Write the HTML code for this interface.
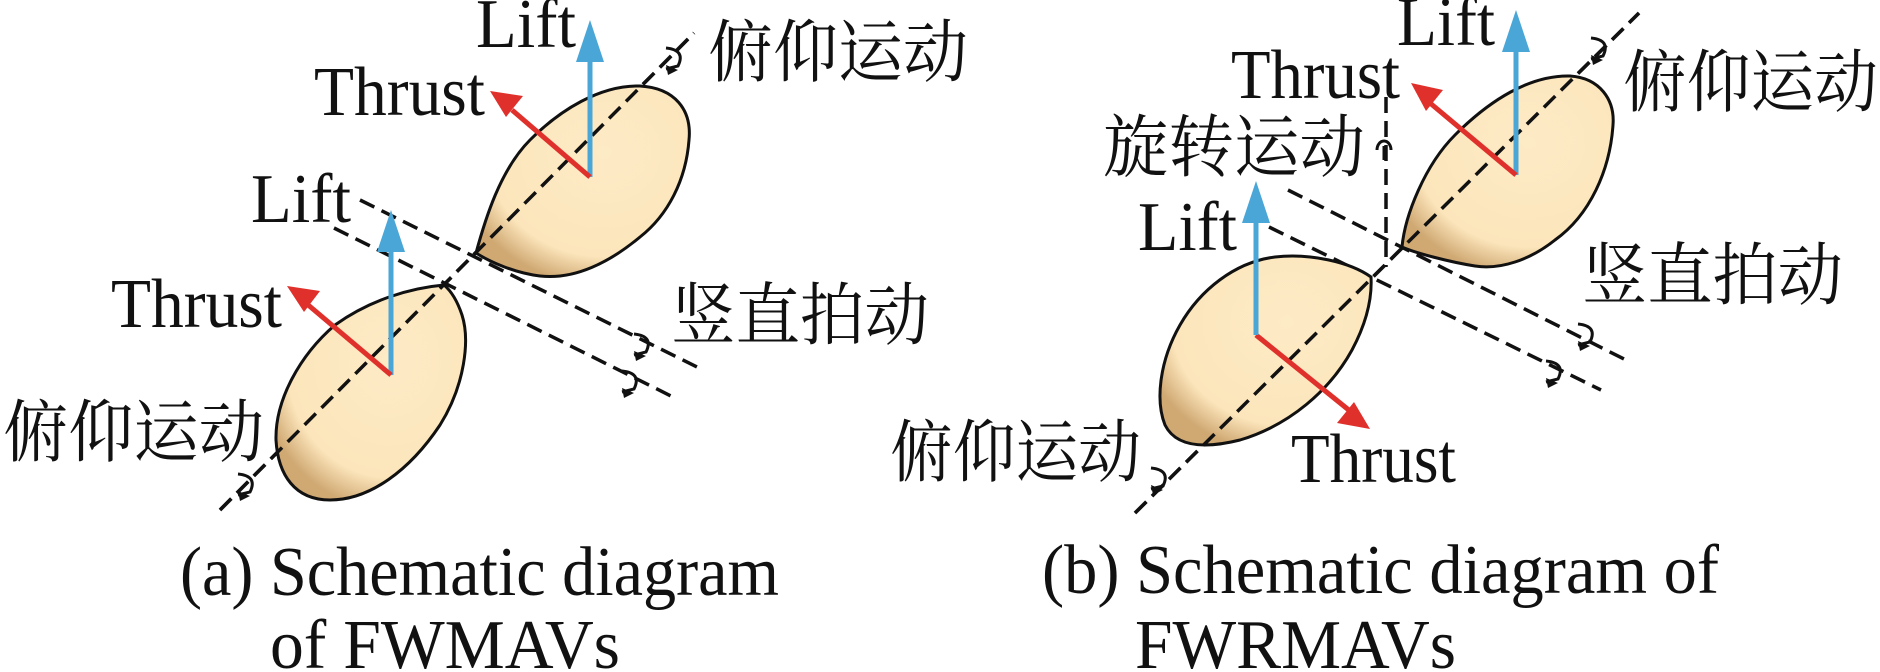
<!DOCTYPE html>
<html><head><meta charset="utf-8"><style>
html,body{margin:0;padding:0;background:#fff;}
svg{display:block;}
text{font-family:"Liberation Serif","Noto Serif CJK SC",serif;fill:#111;}
.cn{font-family:"Liberation Serif","Noto Serif CJK SC","Noto Sans CJK SC",serif;}
</style></head><body>
<svg width="1880" height="672" viewBox="0 0 1880 672" xmlns="http://www.w3.org/2000/svg">
<defs>
<radialGradient id="wg" cx="0.6" cy="0.35" r="0.7">
<stop offset="0" stop-color="#fdebc6"/><stop offset="0.78" stop-color="#fce5bb"/><stop offset="1" stop-color="#cfa872"/>
</radialGradient>
</defs>
<g fill="none" stroke="#111" stroke-width="3.5" stroke-dasharray="16,8">
<line x1="220" y1="510" x2="694" y2="33"/>
<line x1="360" y1="200" x2="703" y2="370"/>
<line x1="334" y1="228" x2="675" y2="398"/>
<line x1="1135" y1="513" x2="1639" y2="13"/>
<line x1="1288" y1="190" x2="1626" y2="360"/>
<line x1="1269" y1="227" x2="1601" y2="390"/>
<line x1="1386" y1="97" x2="1386" y2="267"/>
</g>
<path d="M476,253 C485,220 500,170 530,140 C560,110 600,85 640,86 C675,88 692,110 689,140 C686,180 668,215 640,237 C610,262 575,280 540,276 C515,273 490,262 476,253 Z" fill="url(#wg)" stroke="#111" stroke-width="3"/>
<path d="M444,285 C410,288 370,300 335,325 C300,355 275,400 276,440 C278,475 295,500 330,500 C370,500 410,470 440,425 C465,385 470,340 462,315 C457,300 450,290 444,285 Z" fill="url(#wg)" stroke="#111" stroke-width="3"/>
<path d="M1402,247 C1405,215 1425,165 1455,135 C1490,100 1530,75 1570,76 C1600,78 1615,100 1613,125 C1610,170 1590,215 1555,240 C1530,260 1500,270 1475,266 C1450,262 1415,253 1402,247 Z" fill="url(#wg)" stroke="#111" stroke-width="3"/>
<path d="M1371,277 C1350,262 1310,253 1275,257 C1235,262 1200,290 1180,325 C1160,360 1155,400 1165,425 C1175,445 1200,450 1240,440 C1290,425 1330,390 1352,350 C1368,320 1372,295 1371,277 Z" fill="url(#wg)" stroke="#111" stroke-width="3"/>
<g fill="none" stroke="#111" stroke-width="3.5" stroke-dasharray="16,8">
<line x1="220" y1="510" x2="694" y2="33"/>
<line x1="1135" y1="513" x2="1639" y2="13"/>
</g>
<g stroke-width="5">
<line x1="590" y1="177" x2="590" y2="58" stroke="#4aa6d6"/>
<polygon points="590,20 576,62 604,62" fill="#4aa6d6"/>
<line x1="590" y1="177" x2="512" y2="110" stroke="#e0302b"/>
<polygon points="490,91 523,96 506,117" fill="#e0302b"/>
<line x1="391" y1="375" x2="391" y2="246" stroke="#4aa6d6"/>
<polygon points="391,210 377,252 405,252" fill="#4aa6d6"/>
<line x1="391" y1="375" x2="307" y2="304" stroke="#e0302b"/>
<polygon points="287,286 320,291 304,312" fill="#e0302b"/>
<line x1="1516" y1="175" x2="1516" y2="48" stroke="#4aa6d6"/>
<polygon points="1516,10 1502,52 1530,52" fill="#4aa6d6"/>
<line x1="1516" y1="175" x2="1430" y2="103" stroke="#e0302b"/>
<polygon points="1411,83 1443,90 1426,111" fill="#e0302b"/>
<line x1="1256" y1="335" x2="1350" y2="411" stroke="#e0302b"/>
<polygon points="1370,429 1337,423 1354,402" fill="#e0302b"/>
<line x1="1256" y1="335" x2="1256" y2="219" stroke="#4aa6d6"/>
<polygon points="1256,181 1242,223 1270,223" fill="#4aa6d6"/>
</g>
<g fill="none" stroke="#111" stroke-width="3">
<path d="M634,334 q20,2 12,18 l-12,3"/><path d="M622,371 q20,2 12,18 l-12,3"/>
<path d="M238,474 q20,2 12,18 l-12,3"/><path d="M666,48 q20,2 12,18 l-12,3"/>
<path d="M1578,324 q20,2 12,18 l-12,3"/><path d="M1546,361 q20,2 12,18 l-12,3"/>
<path d="M1591,38 q20,2 12,18 l-12,3"/><path d="M1151,468 q20,2 12,18 l-12,3"/>
<path d="M1377,150 a7,9 0 1 1 14,0 M1384,146 v14"/>
</g>
<g fill="#111">
<polygon points="634,351 646,356 636,361"/><polygon points="622,388 634,393 624,398"/>
<polygon points="238,491 250,496 240,501"/><polygon points="666,65 678,70 668,75"/>
<polygon points="1578,341 1590,346 1580,351"/><polygon points="1546,378 1558,383 1548,388"/>
<polygon points="1591,55 1603,60 1593,65"/><polygon points="1151,485 1163,490 1153,495"/>
</g>
<g font-size="70">
<text x="476" y="47" textLength="100" lengthAdjust="spacingAndGlyphs">Lift</text>
<text x="314" y="115" textLength="171" lengthAdjust="spacingAndGlyphs">Thrust</text>
<text x="251" y="222" textLength="100" lengthAdjust="spacingAndGlyphs">Lift</text>
<text x="111" y="327" textLength="171" lengthAdjust="spacingAndGlyphs">Thrust</text>
<text x="1397" y="45" textLength="98" lengthAdjust="spacingAndGlyphs">Lift</text>
<text x="1231" y="98" textLength="169" lengthAdjust="spacingAndGlyphs">Thrust</text>
<text x="1138" y="250" textLength="99" lengthAdjust="spacingAndGlyphs">Lift</text>
<text x="1291" y="482" textLength="165" lengthAdjust="spacingAndGlyphs">Thrust</text>
<text x="180" y="595" textLength="599" lengthAdjust="spacingAndGlyphs">(a) Schematic diagram</text>
<text x="270" y="668" textLength="350" lengthAdjust="spacingAndGlyphs">of FWMAVs</text>
<text x="1042" y="593" textLength="677" lengthAdjust="spacingAndGlyphs">(b) Schematic diagram of</text>
<text x="1135" y="668" textLength="321" lengthAdjust="spacingAndGlyphs">FWRMAVs</text>
</g>
<g font-size="68">
<text class="cn" x="708" y="76" textLength="260" lengthAdjust="spacingAndGlyphs">俯仰运动</text>
<text class="cn" x="671" y="339" textLength="258" lengthAdjust="spacingAndGlyphs">竖直拍动</text>
<text class="cn" x="3" y="456" textLength="261" lengthAdjust="spacingAndGlyphs">俯仰运动</text>
<text class="cn" x="1623" y="106" textLength="255" lengthAdjust="spacingAndGlyphs">俯仰运动</text>
<text class="cn" x="1103" y="171" textLength="262" lengthAdjust="spacingAndGlyphs">旋转运动</text>
<text class="cn" x="1582" y="299" textLength="261" lengthAdjust="spacingAndGlyphs">竖直拍动</text>
<text class="cn" x="890" y="476" textLength="251" lengthAdjust="spacingAndGlyphs">俯仰运动</text>
</g>
</svg>
</body></html>
